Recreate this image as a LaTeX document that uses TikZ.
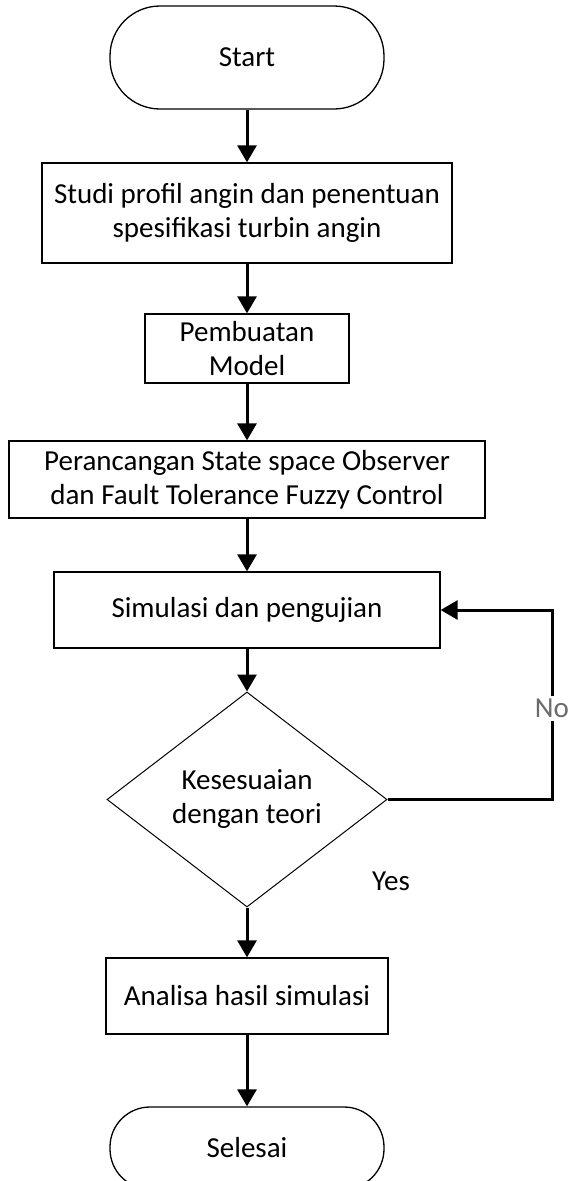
\documentclass[tikz,border=0pt]{standalone}
\usepackage{fontspec}
\setmainfont{Carlito}
\usetikzlibrary{shapes.geometric,arrows.meta}

\tikzset{
  every node/.style={font=\fontsize{29}{34}\selectfont, align=center, inner sep=0pt},
  procbox/.style={draw, line width=1.3pt, rectangle},
  termbox/.style={draw, line width=1.3pt, rectangle},
  decbox/.style={draw, line width=1pt, diamond, aspect=1.3},
  flow/.style={line width=3pt, -{Triangle[width=19pt,length=17pt]}},
  lbl/.style={font=\fontsize{29}{34}\selectfont},
}

\begin{document}
\begin{tikzpicture}[x=1pt,y=-1pt]
  \useasboundingbox (0,0) rectangle (571,1181);

  % terminals and process steps
  \node[termbox, rounded corners=50pt, minimum width=274pt, minimum height=103pt] (start) at (247,57.5) {Start};
  \node[procbox, minimum width=410pt, minimum height=100pt] (b1) at (247,213)
    {Studi profil angin dan penentuan\\spesifikasi turbin angin};
  \node[procbox, minimum width=204pt, minimum height=69pt] (b2) at (247,348.5)
    {Pembuatan\\Model};
  \node[procbox, minimum width=476pt, minimum height=77pt] (b3) at (247,479.5)
    {Perancangan State space Observer\\dan Fault Tolerance Fuzzy Control};
  \node[procbox, minimum width=386pt, minimum height=76pt] (b4) at (247,610)
    {Simulasi dan pengujian};
  \node[decbox, minimum width=280pt, minimum height=215pt] (dec) at (247,799.5)
    {Kesesuaian\\dengan teori};
  \node[procbox, minimum width=282pt, minimum height=76pt] (b5) at (247,996)
    {Analisa hasil simulasi};
  \node[termbox, rounded corners=40pt, minimum width=274pt, minimum height=82pt] (stop) at (247,1148)
    {Selesai};

  % main flow
  \draw[flow] (start) -- (b1);
  \draw[flow] (b1) -- (b2);
  \draw[flow] (b2) -- (b3);
  \draw[flow] (b3) -- (b4);
  \draw[flow] (b4) -- (dec);
  \draw[flow] (dec) -- (b5);
  \draw[flow] (b5) -- (stop);

  % feedback loop when the result does not fit
  \coordinate (r1) at (552,799.5);
  \coordinate (r2) at (552,610);
  \draw[flow] (dec.east) -- (r1) -- node[pos=0.48, fill=white, inner sep=3pt, text=black!58] {No} (r2) -- (b4.east);

  \node[lbl] (yes) at (391,881) {Yes};
\end{tikzpicture}
\end{document}
